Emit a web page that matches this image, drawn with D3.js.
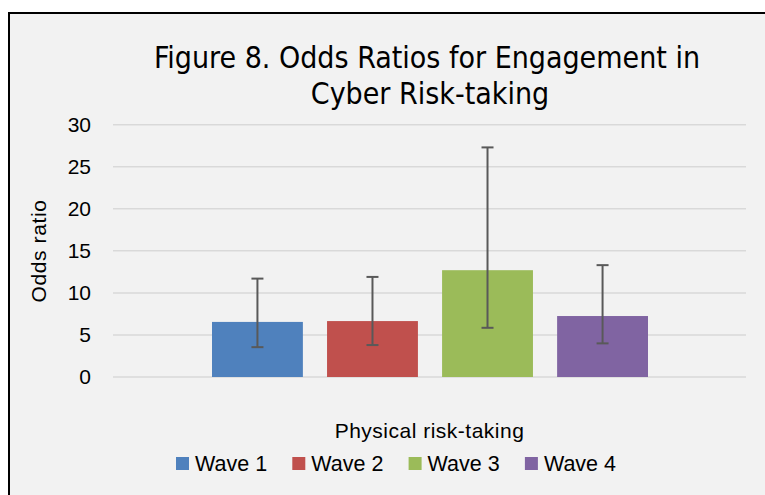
<!DOCTYPE html>
<meta charset="utf-8">
<html>
  <head>
    <title>Figure 8</title>
    <style>
      body { margin: 0; background: #fff; }
      text { font-family: "Liberation Sans", Arial, sans-serif; fill: #000; }
      .title { font-family: "Liberation Sans Narrow", "DejaVu Sans Condensed", sans-serif; }
    </style>
  </head>
  <body>
  <script src="https://d3js.org/d3.v7.min.js"></script>
  <script>

  // data
  var waves = ["Wave 1", "Wave 2", "Wave 3", "Wave 4"];
  var oddsRatio = [6.55, 6.65, 12.7, 7.25];
  var ciLow = [3.55, 3.8, 5.85, 4.0];
  var ciHigh = [11.7, 11.9, 27.3, 13.3];
  var colors = ["#4f81bd", "#c0504d", "#9bbb59", "#8064a2"];
  var yTicks = [0, 5, 10, 15, 20, 25, 30];
  var category = "Physical risk-taking";

  var width = 765, height = 495;

  var svg = d3.select("body").append("svg")
      .attr("width", width)
      .attr("height", height);

  // chart frame
  svg.append("rect")
      .attr("x", 9).attr("y", 13)
      .attr("width", width).attr("height", height)
      .style("fill", "#f2f2f2")
      .style("stroke", "#000")
      .style("stroke-width", 2);

  var plotLeft = 113, plotRight = 746;
  var y = d3.scaleLinear()
      .domain([0, 30])
      .range([377, 124.7]);

  // gridlines
  svg.append("g").selectAll("line")
      .data(yTicks)
    .enter().append("line")
      .attr("x1", plotLeft).attr("x2", plotRight)
      .attr("y1", function(d){ return y(d); })
      .attr("y2", function(d){ return y(d); })
      .style("stroke", "#d9d9d9")
      .style("stroke-width", 1.5);

  var yAxis = d3.axisLeft(y)
      .tickValues(yTicks)
      .tickSize(0)
      .tickPadding(0);

  var axisG = svg.append("g")
      .attr("transform", "translate(91,0)")
      .call(yAxis);
  axisG.select(".domain").remove();
  axisG.attr("font-size", null).attr("font-family", null);
  axisG.selectAll("text")
      .style("font-size", "21px")
      .attr("fill", "#000");

  // bars
  var x0 = d3.scaleBand()
      .domain([category])
      .range([plotLeft, plotRight]);

  var x1 = d3.scaleBand()
      .domain(waves)
      .range([x0(category) + 99, x0(category) + x0.bandwidth() - 98])
      .paddingInner(0.21);

  var rows = waves.map(function(w, i){
    return { wave: w, value: oddsRatio[i], lo: ciLow[i], hi: ciHigh[i], color: colors[i] };
  });

  svg.append("g").selectAll("rect")
      .data(rows)
    .enter().append("rect")
      .attr("x", function(d){ return x1(d.wave); })
      .attr("y", function(d){ return y(d.value); })
      .attr("width", x1.bandwidth())
      .attr("height", function(d){ return y(0) - y(d.value); })
      .style("fill", function(d){ return d.color; });

  // error bars
  var err = svg.append("g").selectAll("g")
      .data(rows)
    .enter().append("g")
      .style("stroke", "#595959")
      .style("stroke-width", 2);

  err.append("line")
      .attr("x1", function(d){ return x1(d.wave) + x1.bandwidth() / 2; })
      .attr("x2", function(d){ return x1(d.wave) + x1.bandwidth() / 2; })
      .attr("y1", function(d){ return y(d.lo); })
      .attr("y2", function(d){ return y(d.hi); });

  ["lo", "hi"].forEach(function(k){
    err.append("line")
      .attr("x1", function(d){ return x1(d.wave) + x1.bandwidth() / 2 - 6; })
      .attr("x2", function(d){ return x1(d.wave) + x1.bandwidth() / 2 + 6; })
      .attr("y1", function(d){ return y(d[k]); })
      .attr("y2", function(d){ return y(d[k]); });
  });

  // title
  svg.append("text")
      .attr("class", "title")
      .attr("x", 427).attr("y", 68)
      .attr("text-anchor", "middle")
      .style("font-size", "30px")
      .text("Figure 8. Odds Ratios for Engagement in");
  svg.append("text")
      .attr("class", "title")
      .attr("x", 430).attr("y", 104)
      .attr("text-anchor", "middle")
      .style("font-size", "30px")
      .text("Cyber Risk-taking");

  // y axis title
  svg.append("text")
      .attr("transform", "translate(46,251) rotate(-90)")
      .attr("text-anchor", "middle")
      .style("font-size", "21px")
      .style("letter-spacing", "0.6px")
      .text("Odds ratio");

  // category label
  svg.append("text")
      .attr("x", x0(category) + x0.bandwidth() / 2)
      .attr("y", 438)
      .attr("text-anchor", "middle")
      .style("font-size", "21px")
      .style("letter-spacing", "0.5px")
      .text(category);

  // legend
  var legend = svg.append("g").selectAll("g")
      .data(rows)
    .enter().append("g")
      .attr("transform", function(d, i){ return "translate(" + (176 + i * 116.3) + ",457)"; });

  legend.append("rect")
      .attr("width", 13).attr("height", 13)
      .style("fill", function(d){ return d.color; });

  legend.append("text")
      .attr("x", 19).attr("y", 14)
      .style("font-size", "21.5px")
      .text(function(d){ return d.wave; });

  </script>
  </body>
</html>
